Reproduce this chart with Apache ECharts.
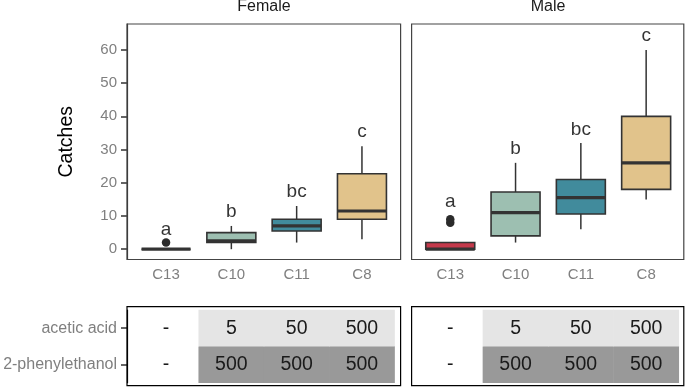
<!DOCTYPE html>
<html>
<head>
<meta charset="utf-8">
<script src="https://cdn.jsdelivr.net/npm/echarts@6/dist/echarts.min.js"></script>
<style>
  html, body { margin: 0; padding: 0; background: #fff; }
  #chart { width: 685px; height: 387px; }
</style>
</head>
<body>
<div id="chart"></div>
<script>
// categories and colours
const categories = ['C13', 'C10', 'C11', 'C8'];
const boxColors = ['#c4394b', '#9dbfb1', '#418b9c', '#e1c38b'];

// box stats: [index, min, q1, median, q3, max]
const femaleStats = [
  [0, 0, 0, 0, 0, 0],
  [1, 0, 2, 2.5, 5, 7],
  [2, 2, 5.5, 7, 9, 13],
  [3, 3, 9, 11.5, 22.7, 31],
];
const maleStats = [
  [0, 0, 0, 0, 2, 2],
  [1, 2, 4, 11, 17.2, 26],
  [2, 6, 10.6, 15.5, 21, 32],
  [3, 15, 18, 26, 40, 60],
];
const femaleOutliers = [[0, 2]];
const maleOutliers = [[0, 8], [0, 9]];

// significance letters and where they sit
const letters = ['a', 'b', 'bc', 'c'];
const femaleLetterY = [6, 11.2, 17.3, 35.3];
const maleLetterY = [14.2, 30.1, 36, 64.2];

const yTicks = [0, 10, 20, 30, 40, 50, 60];

// dose table
const rowNames = ['2-phenylethanol', 'acetic acid'];
const phenylethanol = ['-', '500', '500', '500'];
const aceticAcid = ['-', '5', '50', '500'];
const rowShade = ['#999999', '#e5e5e5'];

const chart = echarts.init(document.getElementById('chart'), null, { renderer: 'canvas' });

const ink = '#333333';
const grey = '#7f7f7f';

function renderBox(params, api) {
  const i = api.value(0);
  const lo = api.coord([i, api.value(1)]);
  const q1 = api.coord([i, api.value(2)]);
  const md = api.coord([i, api.value(3)]);
  const q3 = api.coord([i, api.value(4)]);
  const hi = api.coord([i, api.value(5)]);
  const w = api.size([1, 0])[0] * 0.75;
  const x0 = lo[0] - w / 2;
  return {
    type: 'group',
    children: [
      { type: 'line', shape: { x1: hi[0], y1: hi[1], x2: q3[0], y2: q3[1] }, style: { stroke: ink, lineWidth: 1.5 } },
      { type: 'line', shape: { x1: q1[0], y1: q1[1], x2: lo[0], y2: lo[1] }, style: { stroke: ink, lineWidth: 1.5 } },
      { type: 'rect', shape: { x: x0, y: q3[1], width: w, height: q1[1] - q3[1] }, style: { fill: boxColors[i], stroke: ink, lineWidth: 1.6 } },
      { type: 'line', shape: { x1: x0, y1: md[1], x2: x0 + w, y2: md[1] }, style: { stroke: ink, lineWidth: 3.2 } },
    ],
  };
}

function tableData() {
  const out = [];
  const rows = [phenylethanol, aceticAcid];
  rows.forEach((row, r) => {
    row.forEach((txt, c) => {
      out.push({
        value: [c, r, r],
        itemStyle: { color: txt === '-' ? '#ffffff' : rowShade[r] },
      });
    });
  });
  return out;
}

function tableLabel(p) {
  const rows = [phenylethanol, aceticAcid];
  return rows[p.value[1]][p.value[0]];
}

const plotX = [133.4, 417.6];
const plotW = 261.2;

const grids = [
  { left: plotX[0], width: plotW, top: 24, height: 235.5 },
  { left: plotX[1], width: plotW, top: 24, height: 235.5 },
  { left: plotX[0], width: plotW, top: 310, height: 72.7 },
  { left: plotX[1], width: plotW, top: 310, height: 72.7 },
];

function plotXAxis(g) {
  return {
    type: 'category', gridIndex: g, data: categories,
    axisLine: { show: false }, axisTick: { show: false },
    axisLabel: { color: grey, fontSize: 15, margin: 8 },
    splitLine: { show: false },
  };
}

function tableXAxis(g) {
  return { type: 'category', gridIndex: g, data: categories, show: false };
}

const yAxes = [
  {
    type: 'value', gridIndex: 0, min: -3.1, max: 67.8, offset: 6.4,
    axisLine: { show: true, lineStyle: { color: ink, width: 1.2 } },
    axisTick: { show: true, customValues: yTicks, length: 6, lineStyle: { color: ink, width: 1.5 } },
    axisLabel: { customValues: yTicks, color: grey, fontSize: 15, margin: 10 },
    splitLine: { show: false },
    name: 'Catches', nameLocation: 'middle', nameGap: 50,
    nameTextStyle: { fontSize: 19.5, color: '#000' },
  },
  {
    type: 'value', gridIndex: 1, min: -3.1, max: 67.8,
    axisLine: { show: false }, axisTick: { show: false },
    axisLabel: { show: false }, splitLine: { show: false },
  },
  {
    type: 'category', gridIndex: 2, data: rowNames, offset: 6.4,
    axisLine: { show: true, lineStyle: { color: '#000', width: 1.2 } },
    axisTick: { show: true, alignWithLabel: true, length: 6, lineStyle: { color: ink, width: 1.5 } },
    axisLabel: { color: grey, fontSize: 16, margin: 10 },
  },
  {
    type: 'category', gridIndex: 3, data: rowNames,
    axisLine: { show: false }, axisTick: { show: false }, axisLabel: { show: false },
  },
];

function letterSeries(idx, ys) {
  return {
    type: 'scatter', xAxisIndex: idx, yAxisIndex: idx, silent: true,
    symbolSize: 1, itemStyle: { color: 'rgba(0,0,0,0)' },
    data: ys.map((y, i) => [i, y]),
    label: {
      show: true, position: 'inside', color: '#000', fontSize: 19,
      formatter: (p) => letters[p.dataIndex],
    },
    z: 5,
  };
}

function boxSeries(idx, stats) {
  return {
    type: 'custom', xAxisIndex: idx, yAxisIndex: idx, silent: true,
    renderItem: renderBox, encode: { x: 0, y: [1, 2, 3, 4, 5] },
    data: stats, z: 3,
  };
}

function outlierSeries(idx, pts) {
  return {
    type: 'scatter', xAxisIndex: idx, yAxisIndex: idx, silent: true,
    symbolSize: 8.5, itemStyle: { color: '#2b2b2b', opacity: 1 }, data: pts, z: 4,
  };
}

function tableSeries(idx) {
  return {
    type: 'heatmap', xAxisIndex: idx, yAxisIndex: idx, silent: true,
    data: tableData(),
    label: { show: true, color: '#1a1a1a', fontSize: 19.5, formatter: tableLabel },
  };
}

function frame(x, y, w, h, color) {
  return {
    type: 'rect', silent: true, z: 100,
    shape: { x: x, y: y, width: w, height: h },
    style: { fill: 'none', stroke: color, lineWidth: 1.2 },
  };
}

const stripText = (txt, cx) => ({
  type: 'text', silent: true, x: cx, y: 7,
  style: { text: txt, fill: '#1a1a1a', fontSize: 16, align: 'center', verticalAlign: 'middle', fontFamily: 'Liberation Sans' },
});

chart.setOption({
  animation: false,
  textStyle: { fontFamily: 'Liberation Sans' },
  grid: grids,
  xAxis: [plotXAxis(0), plotXAxis(1), tableXAxis(2), tableXAxis(3)],
  yAxis: yAxes,
  series: [
    boxSeries(0, femaleStats),
    boxSeries(1, maleStats),
    outlierSeries(0, femaleOutliers),
    outlierSeries(1, maleOutliers),
    letterSeries(0, femaleLetterY),
    letterSeries(1, maleLetterY),
    tableSeries(2),
    tableSeries(3),
  ],
  graphic: [
    frame(127, 24, 273.6, 235.5, '#444'),
    frame(411.6, 24, 272.2, 235.5, '#444'),
    frame(127, 306.7, 273.6, 79, '#000'),
    frame(411.6, 306.7, 272.2, 79, '#000'),
    stripText('Female', 264),
    stripText('Male', 548),
  ],
});
</script>
</body>
</html>
